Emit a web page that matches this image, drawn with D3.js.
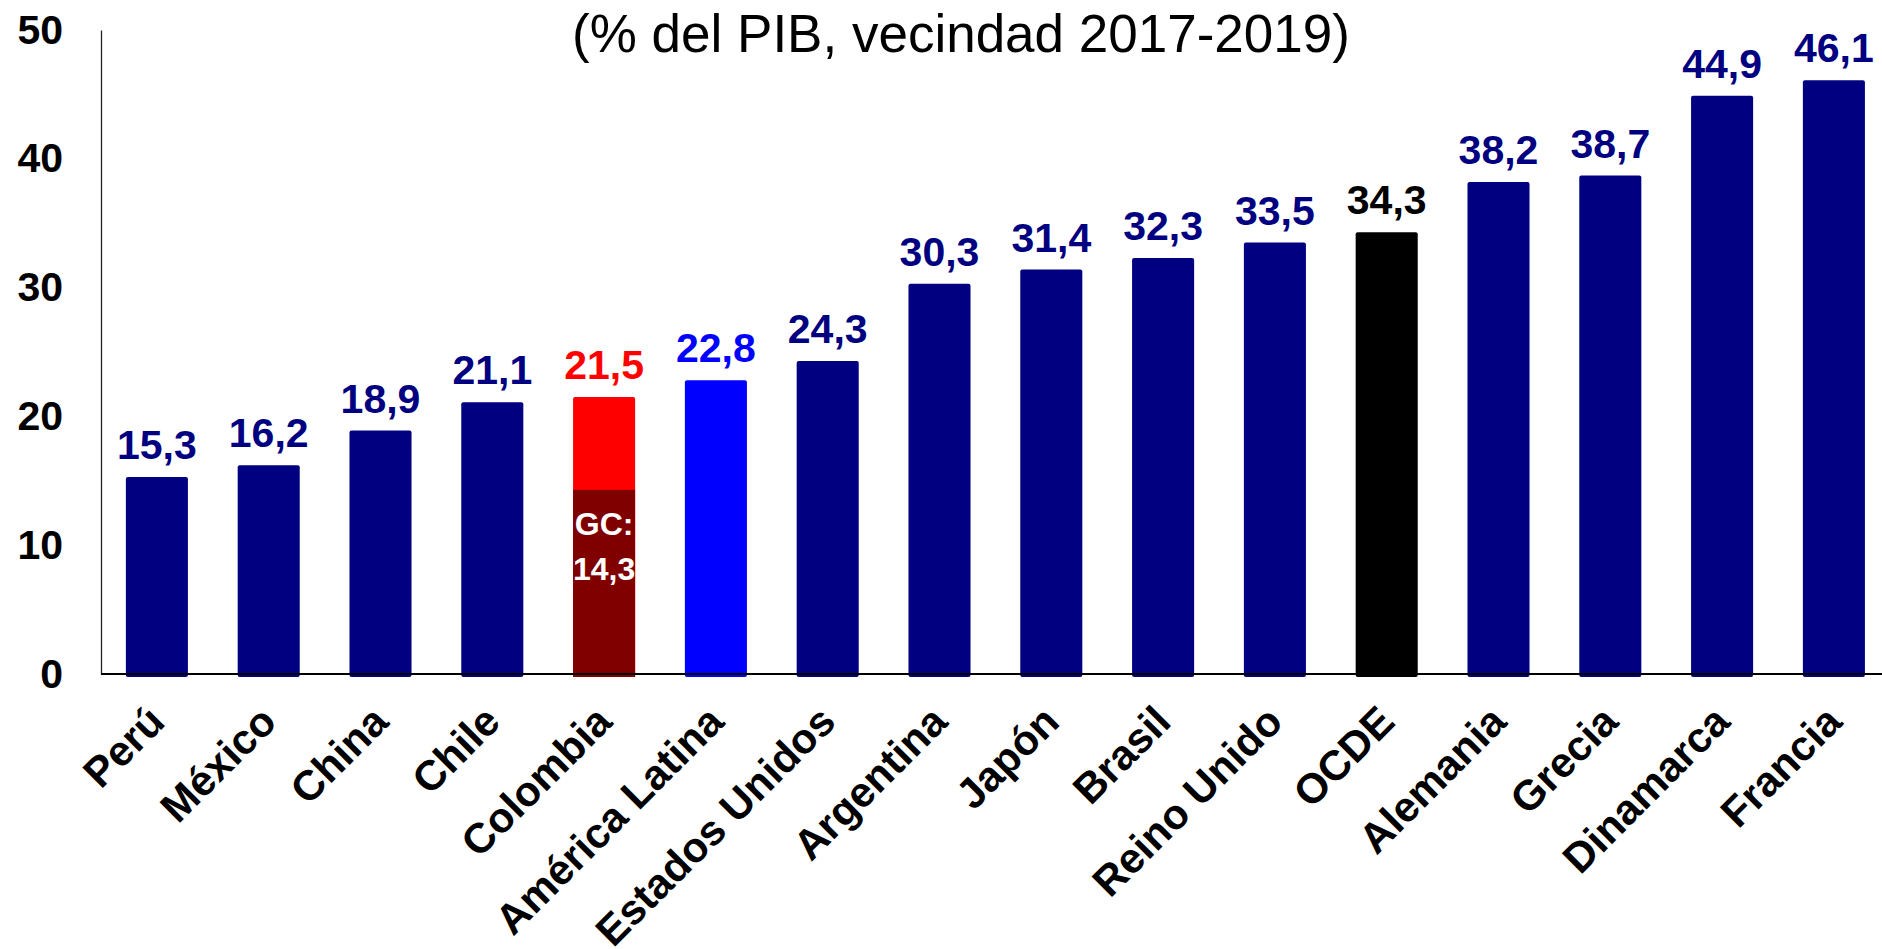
<!DOCTYPE html>
<html>
<head>
<meta charset="utf-8">
<script src="https://cdn.jsdelivr.net/npm/d3@7"></script>
<style>
  body { margin: 0; background: #fff; }
  svg { display: block; font-family: "Liberation Sans", Arial, sans-serif; }
</style>
</head>
<body>
<svg width="1882" height="949"></svg>
<script>
// data
const countries = ["Perú", "México", "China", "Chile", "Colombia", "América Latina",
  "Estados Unidos", "Argentina", "Japón", "Brasil", "Reino Unido", "OCDE",
  "Alemania", "Grecia", "Dinamarca", "Francia"];
const values = [15.3, 16.2, 18.9, 21.1, 21.5, 22.8, 24.3, 30.3, 31.4, 32.3, 33.5, 34.3,
  38.2, 38.7, 44.9, 46.1];
const gcValue = 14.3;          // central government part for Colombia
const yTicks = [0, 10, 20, 30, 40, 50];
const title = "(% del PIB, vecindad 2017-2019)";

const navy = "#000080";
const barColor = {"Colombia": "#ff0000", "América Latina": "#0000ff", "OCDE": "#000000"};
const labelColor = {"Colombia": "#ff0000", "América Latina": "#0000ff", "OCDE": "#000000"};

const svg = d3.select("svg");
const data = countries.map((c, i) => ({name: c, value: values[i]}));
const fmt = v => d3.format(".1f")(v).replace(".", ",");

const x0 = 101;
const x = d3.scaleBand()
  .domain(countries)
  .range([x0, x0 + 16 * 111.8])
  .paddingInner(0.445)
  .paddingOuter(0.2225);

const y = d3.scaleLinear().domain([0, 50]).range([674, 30]);

// title
svg.append("text")
  .attr("x", 961)
  .attr("y", 52)
  .attr("text-anchor", "middle")
  .attr("font-size", 53)
  .attr("fill", "#000")
  .text(title);

// y axis
const yAxis = svg.append("g")
  .attr("transform", `translate(${x0},0)`)
  .call(d3.axisLeft(y).tickValues(yTicks).tickSize(0).tickPadding(38));
yAxis.select(".domain").attr("stroke", "#222").attr("stroke-width", 1.3);
yAxis.selectAll("text")
  .attr("font-family", "Liberation Sans, Arial, sans-serif")
  .attr("font-size", 41)
  .attr("font-weight", "bold")
  .attr("fill", "#000");

// bars
svg.append("g")
  .selectAll("rect")
  .data(data)
  .join("rect")
  .attr("x", d => x(d.name))
  .attr("y", d => y(d.value))
  .attr("width", x.bandwidth())
  .attr("height", d => y(0) - y(d.value) + 3)
  .attr("rx", 2)
  .attr("fill", d => barColor[d.name] || navy);

// Colombia central government part
svg.append("rect")
  .attr("x", x("Colombia"))
  .attr("y", y(gcValue))
  .attr("width", x.bandwidth())
  .attr("height", y(0) - y(gcValue) + 3)
  .attr("fill", "#800000");

const gc = svg.append("text")
  .attr("text-anchor", "middle")
  .attr("font-size", 32)
  .attr("font-weight", "bold")
  .attr("fill", "#fff");
gc.append("tspan").attr("x", x("Colombia") + x.bandwidth() / 2).attr("y", 535).text("GC:");
gc.append("tspan").attr("x", x("Colombia") + x.bandwidth() / 2).attr("y", 580).text(fmt(gcValue));

// x baseline
svg.append("line")
  .attr("x1", x0).attr("x2", 1882)
  .attr("y1", y(0)).attr("y2", y(0))
  .attr("stroke", "#000")
  .attr("stroke-width", 2);

// value labels
svg.append("g")
  .selectAll("text")
  .data(data)
  .join("text")
  .attr("x", d => x(d.name) + x.bandwidth() / 2)
  .attr("y", d => y(d.value) - 18)
  .attr("text-anchor", "middle")
  .attr("font-size", 41)
  .attr("font-weight", "bold")
  .attr("fill", d => labelColor[d.name] || navy)
  .text(d => fmt(d.value));

// category labels
svg.append("g")
  .selectAll("text")
  .data(data)
  .join("text")
  .attr("transform", d => `translate(${x(d.name) + x.bandwidth() / 2 + 10},${y(0) + 50}) rotate(-45)`)
  .attr("text-anchor", "end")
  .attr("font-size", 42)
  .attr("font-weight", "bold")
  .attr("fill", "#000")
  .text(d => d.name);
</script>
</body>
</html>
